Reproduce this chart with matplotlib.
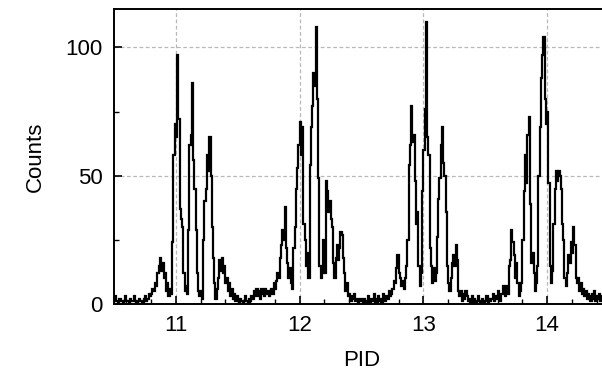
import numpy as np
import matplotlib
matplotlib.use("Agg")
import matplotlib.pyplot as plt
from matplotlib.ticker import MultipleLocator

# Histogram: PID bins of width 0.01 starting at 10.50
bin_start = 10.50
bin_width = 0.01

counts_11 = [
    1, 3, 1, 0, 2, 2, 1, 0, 1, 3,      # 10.50
    1, 1, 0, 2, 1, 1, 3, 1, 0, 1,      # 10.60
    2, 1, 1, 0, 2, 3, 1, 2, 4, 3,      # 10.70
    4, 6, 5, 8, 7, 12, 15, 18, 13, 16, # 10.80
    10, 12, 5, 8, 3, 6, 4, 24, 58, 70, # 10.90
    65, 97, 72, 37, 33, 30, 12, 5, 7, 4,   # 11.00
    29, 62, 66, 86, 56, 45, 29, 12, 5, 3,  # 11.10
    5, 2, 25, 40, 45, 58, 52, 65, 50, 30,  # 11.20
    18, 8, 2, 6, 10, 17, 13, 18, 12, 15,   # 11.30
    8, 10, 5, 8, 3, 6, 2, 4, 1, 3,         # 11.40
]
counts_12 = [
    1, 0, 2, 1, 0, 1, 3, 1, 0, 2,      # 11.50
    1, 3, 2, 5, 3, 6, 3, 5, 2, 6,      # 11.60
    4, 3, 6, 4, 5, 3, 5, 6, 4, 8,      # 11.70
    6, 9, 12, 10, 18, 23, 29, 25, 38, 22,  # 11.80
    16, 10, 14, 8, 6, 22, 30, 45, 53, 62,  # 11.90
    71, 58, 69, 31, 25, 15, 20, 10, 54, 69,  # 12.00
    77, 90, 85, 108, 80, 49, 15, 10, 14, 25, # 12.10
    12, 48, 44, 36, 40, 33, 30, 16, 10, 18,  # 12.20
    23, 17, 22, 28, 27, 18, 12, 5, 8, 3,     # 12.30
    4, 1, 3, 2, 4, 1, 2, 0, 1, 2,            # 12.40
]
counts_13 = [
    1, 0, 2, 1, 0, 3, 1, 0, 2, 1,      # 12.50
    4, 2, 0, 3, 1, 2, 0, 4, 2, 1,      # 12.60
    3, 2, 5, 3, 4, 6, 9, 8, 14, 19,    # 12.70
    12, 10, 7, 9, 6, 10, 15, 25, 54, 62,   # 12.80
    77, 63, 66, 48, 31, 36, 15, 7, 12, 44, # 12.90
    60, 76, 110, 65, 58, 22, 15, 8, 14, 9, # 13.00
    12, 26, 41, 49, 62, 69, 55, 50, 36, 15, # 13.10
    8, 5, 10, 16, 19, 15, 23, 17, 5, 3,    # 13.20
    5, 1, 4, 2, 5, 3, 1, 2, 0, 3,          # 13.30
    1, 2, 0, 1, 3, 1, 0, 2, 1, 0,          # 13.40
]
counts_14 = [
    1, 3, 0, 2, 1, 2, 4, 1, 3, 2,      # 13.50
    5, 3, 1, 4, 7, 5, 3, 7, 4, 15,     # 13.60
    17, 29, 24, 19, 10, 16, 8, 3, 5, 8,    # 13.70
    25, 44, 58, 47, 66, 73, 39, 16, 20, 12, # 13.80
    5, 8, 15, 50, 69, 88, 97, 104, 80, 70,  # 13.90
    75, 47, 15, 8, 13, 31, 45, 52, 48, 52,  # 14.00
    50, 45, 31, 25, 10, 7, 12, 19, 16, 24,  # 14.10
    20, 30, 23, 10, 8, 10, 5, 8, 4, 6,      # 14.20
    3, 5, 2, 4, 3, 1, 4, 2, 5, 1,           # 14.30
    3, 2, 4, 1, 3, 0, 2, 1, 3, 1,           # 14.40
]

x_ticks = [11, 12, 13, 14]
y_ticks = [0, 50, 100]
x_label = "PID"
y_label = "Counts"

counts = np.array(counts_11 + counts_12 + counts_13 + counts_14, dtype=float)
edges = bin_start + bin_width * np.arange(len(counts) + 1)

plt.rcParams['font.family'] = ['Liberation Sans', 'DejaVu Sans']

fig = plt.figure(figsize=(6.02, 3.72), dpi=100)
ax = fig.add_axes([114 / 602, 68 / 372, (609 - 114) / 602, 295 / 372])

ax.stairs(counts, edges, color='black', linewidth=1.6, baseline=None, zorder=3)

ax.set_xlim(10.5, 14.5)
ax.set_ylim(0, 115)
ax.set_xticks(x_ticks)
ax.set_yticks(y_ticks)
ax.xaxis.set_minor_locator(MultipleLocator(0.2))
ax.yaxis.set_minor_locator(MultipleLocator(25))
ax.tick_params(which='major', direction='in', length=6, width=1.2,
               labelsize=16, pad=8, top=False, right=False)
ax.tick_params(which='minor', direction='in', length=3.5, width=1.0,
               top=False, right=False)

ax.grid(True, which='major', color='#b8b8b8', linestyle=(0, (3, 2)), linewidth=0.9, zorder=0)
for s in ax.spines.values():
    s.set_linewidth(1.4)

ax.set_xlabel(x_label, fontsize=16, labelpad=10)
ax.set_ylabel(y_label, fontsize=16, labelpad=14)

fig.savefig("out.png", dpi=100)
